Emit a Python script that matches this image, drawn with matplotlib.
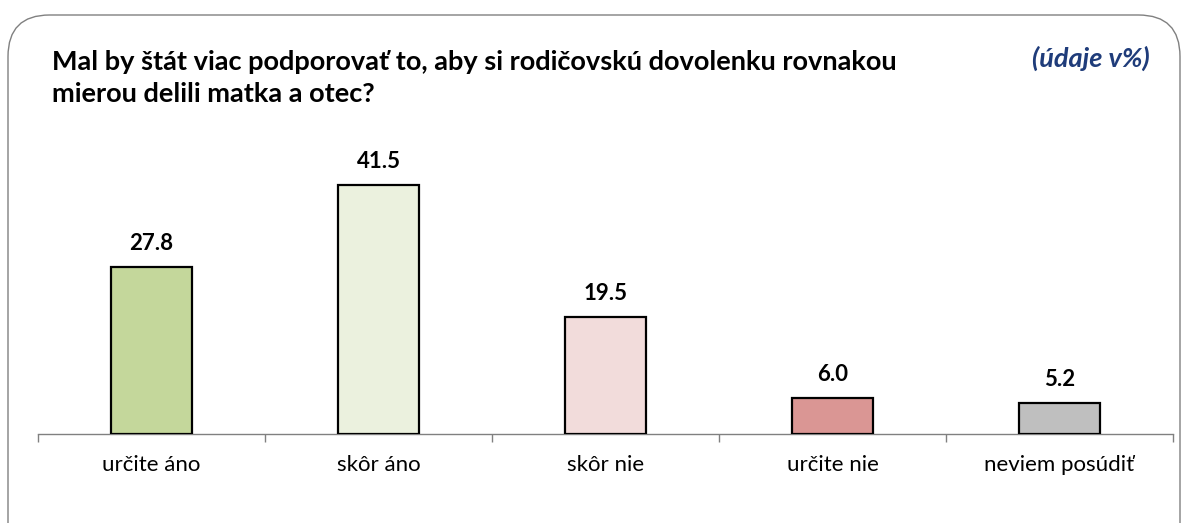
import matplotlib.pyplot as plt
from matplotlib.patches import FancyBboxPatch

# data
categories = ["určite áno", "skôr áno", "skôr nie", "určite nie", "neviem posúdiť"]
values = [27.8, 41.5, 19.5, 6.0, 5.2]
colors = ["#C4D79B", "#EBF1DE", "#F2DCDB", "#DA9694", "#BFBFBF"]

plt.rcParams['font.family'] = ['Lato', 'DejaVu Sans']

fig = plt.figure(figsize=(11.87, 5.23), dpi=100)

# rounded frame around the whole chart
frame = FancyBboxPatch((8 / 1187, -0.2), 1172 / 1187, 1.2 - 15 / 523,
                       boxstyle="round,pad=0,rounding_size=0.035",
                       transform=fig.transFigure, facecolor="none",
                       edgecolor="#808080", linewidth=1.0,
                       mutation_aspect=1187 / 523, zorder=-1)
fig.patches.append(frame)

ax = fig.add_axes([38 / 1187, 89 / 523, 1135 / 1187, 270 / 523])
x = list(range(len(categories)))
ax.bar(x, values, width=0.36, color=colors, edgecolor="black", linewidth=1.6, zorder=3)

for xi, v in zip(x, values):
    ax.text(xi, v + 2.2, f"{v:.1f}", ha="center", va="bottom",
            fontsize=16, fontweight="bold")

ax.set_xlim(-0.5, len(categories) - 0.5)
ax.set_ylim(0, 45)
ax.set_yticks([])
ax.set_xticks(x)
ax.set_xticklabels(categories, fontsize=16)
ax.tick_params(axis="x", length=0, pad=15)
ax.set_xticks([i - 0.5 for i in range(len(categories) + 1)], minor=True)
ax.tick_params(axis="x", which="minor", length=6, color="#808080", width=1)
for s in ["top", "right", "left"]:
    ax.spines[s].set_visible(False)
ax.spines["bottom"].set_color("#808080")
ax.spines["bottom"].set_linewidth(1)
ax.patch.set_alpha(0)

fig.text(52 / 1187, 1 - 78 / 523,
         "Mal by štát viac podporovať to, aby si rodičovskú dovolenku rovnakou\nmierou delili matka a otec?",
         ha="left", va="center", fontsize=19.5, fontweight="bold", linespacing=1.35)
fig.text(1150 / 1187, 1 - 58 / 523, "(údaje v%)", ha="right", va="center",
         fontsize=19.5, fontweight="bold", style="italic", color="#1F3C7A")

fig.savefig("out.png", dpi=100)
